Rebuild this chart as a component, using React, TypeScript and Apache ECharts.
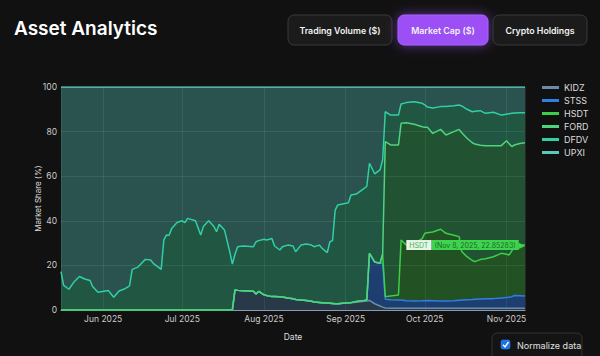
import { useEffect, useRef } from 'react';
import * as echarts from 'echarts';

const dates = [
  '2025-05-16','2025-05-17','2025-05-19','2025-05-21','2025-05-23','2025-05-25','2025-05-27','2025-05-28','2025-05-30',
  '2025-06-03','2025-06-04','2025-06-05','2025-06-07','2025-06-09','2025-06-11','2025-06-12','2025-06-14','2025-06-17',
  '2025-06-19','2025-06-20','2025-06-23','2025-06-24','2025-06-25','2025-06-26','2025-06-27','2025-06-29',
  '2025-07-01','2025-07-02','2025-07-03','2025-07-06','2025-07-08','2025-07-09','2025-07-11','2025-07-13','2025-07-14',
  '2025-07-15','2025-07-17','2025-07-19','2025-07-20','2025-07-21','2025-07-22','2025-07-24','2025-07-28','2025-07-29',
  '2025-07-30','2025-08-01','2025-08-02','2025-08-04','2025-08-05','2025-08-07','2025-08-08','2025-08-10','2025-08-12',
  '2025-08-13','2025-08-15','2025-08-17','2025-08-19','2025-08-20','2025-08-22','2025-08-23','2025-08-25','2025-08-26',
  '2025-08-27','2025-08-28','2025-08-29','2025-09-02','2025-09-03','2025-09-05','2025-09-08','2025-09-09','2025-09-10',
  '2025-09-12','2025-09-14','2025-09-15','2025-09-16','2025-09-18','2025-09-21','2025-09-22','2025-09-24','2025-09-27',
  '2025-09-30','2025-10-01','2025-10-02','2025-10-04','2025-10-07','2025-10-09','2025-10-12','2025-10-14','2025-10-15',
  '2025-10-17','2025-10-19','2025-10-20','2025-10-22','2025-10-24','2025-10-27','2025-10-30','2025-11-01','2025-11-02',
  '2025-11-03','2025-11-04','2025-11-06','2025-11-08',
];

const KIDZ = [
  0,0,0,0,0,0,0,0,0, 0,0,0,0,0,0,0,0,0, 0,0,0,0,0,0,0,0, 0,0,0,0,0,0,0,0,0, 0,0,0,0,9,8.8,8.6,8.4,7.2,
  8.3,6.8,6.5,6.0,6.0,5.9,5.8,5.4,5.0, 4.7,4.5,4.3,3.9,3.6,3.4,3.3,3.1,3.0, 2.9,2.8,2.8,3.2,3.3,3.5,3.9,4.0,4.3,
  2.8,1.8,1.3,0.9,0.8,0.8,0.8,0.8,0.8, 0.8,0.8,0.8,0.8,0.8,0.8,0.8,0.8,0.8, 0.8,0.8,0.8,0.8,0.8,0.8,0.8,0.8,0.8,
  0.8,0.8,0.8,0.8,
];
const STSS = [
  0,0,0,0,0,0,0,0,0, 0,0,0,0,0,0,0,0,0, 0,0,0,0,0,0,0,0, 0,0,0,0,0,0,0,0,0, 0,0,0,0,0,0,0,0,0,
  0,0,0,0,0,0,0,0,0, 0,0,0,0,0,0,0,0,0, 0,0,0,0,0,0.3,0.4,0.5,21.1,
  18.7,19.2,19.9,3.9,3.8,3.7,3.7,3.4,3.2, 3.3,3.4,3.5,3.4,3.2,3.2,3.4,3.6,3.7, 3.8,3.9,4.0,4.1,4.2,4.3,4.6,4.8,4.9,
  5.2,5.7,5.6,5.5,
];
const HSDT = [
  0,0,0,0,0,0,0,0,0, 0,0,0,0,0,0,0,0,0, 0,0,0,0,0,0,0,0, 0,0,0,0,0,0,0,0,0, 0,0,0,0,0,0,0,0,0,
  0,0,0,0,0,0,0,0,0, 0,0,0,0,0,0,0,0,0, 0,0,0,0,0,0,0,0,0,
  0,0,3.8,1.2,1.7,2.2,26.9,24.9,25.9, 27.9,30.2,30.3,30.8,32.2,30.4,29.3,28.5,21.7, 19.3,17.5,16.9,17.7,18.0,18.8,20.0,19.4,19.0,
  20.5,21.9,22.6,22.85,
];
const FORD = [
  0,0,0,0,0,0,0,0,0, 0,0,0,0,0,0,0,0,0, 0,0,0,0,0,0,0,0, 0,0,0,0,0,0,0,0,0, 0,0,0,0,0,0,0,0,0,
  0,0,0,0,0,0,0,0,0, 0,0,0,0,0,0,0,0,0, 0,0,0,0,0,0,0,0,0,
  0,0,0,69.5,67.7,67.3,52.3,54.9,53.4, 50.2,47.6,47.3,44.2,44.8,44.1,46.5,48.1,53.3, 53.1,52.8,52.7,51.3,50.7,49.8,48.3,50.9,49.8,
  46.8,45.6,45.7,45.9,
];
const DFDV = [
  17.2,11.0,9.3,12.7,15.0,13.9,13.2,10.5,8.0, 8.7,7.2,5.7,8.5,9.4,10.8,18.2,19.1,22.7, 22.4,20.9,18.2,31.4,33.6,33.5,36.6,39.2,
  40.0,39.2,41.1,40.0,33.6,37.4,40.0,37.4,35.1, 38.4,35.9,26.2,20.6,16.0,19.6,20.1,20.0,23.4,
  22.8,24.9,24.9,26.1,22.7,21.0,22.6,23.7,23.7, 21.4,24.6,25.3,25.2,24.8,25.7,24.4,22.6,27.6,
  28.2,42.0,44.3,44.9,48.3,48.2,50.2,51.0,40.4,
  39.5,41.8,42.3,13.4,13.4,13.4,8.7,9.0,10.1, 10.5,10.0,9.1,11.4,10.2,12.8,11.6,10.9,12.0, 13.0,13.9,14.7,15.5,14.5,15.0,13.7,11.9,13.5,
  14.9,14.3,13.8,13.5,
];
const UPXI = [
  82.8,89.0,90.7,87.3,85.0,86.1,86.8,89.5,92.0, 91.3,92.8,94.3,91.5,90.6,89.2,81.8,80.9,77.3, 77.6,79.1,81.8,68.6,66.4,66.5,63.4,60.8,
  60.0,60.8,58.9,60.0,66.4,62.6,60.0,62.6,64.9, 61.6,64.1,73.8,79.4,75.0,71.6,71.3,71.6,69.4,
  68.9,68.3,68.6,67.9,71.3,73.1,71.6,70.9,71.3, 73.9,70.9,70.4,70.9,71.6,70.9,72.3,74.3,69.4,
  68.9,55.2,52.9,51.9,48.4,48.0,45.5,44.5,34.2,
  39.0,37.2,32.7,11.1,12.6,12.6,7.6,7.0,6.6, 7.3,8.0,9.0,9.4,8.8,8.7,8.4,8.1,8.5, 10.0,11.1,10.9,10.6,11.8,11.3,12.6,12.2,12.0,
  11.8,11.7,11.5,11.5,
];

const seriesNames = ['KIDZ', 'STSS', 'HSDT', 'FORD', 'DFDV', 'UPXI'];
const monthNames = ['Jan','Feb','Mar','Apr','May','Jun','Jul','Aug','Sep','Oct','Nov','Dec'];
const buttonLabels = ['Trading Volume ($)', 'Market Cap ($)', 'Crypto Holdings'];
const hoverSeries = 'HSDT';
const hoverDate = 'Nov 8, 2025';
const hoverValue = '22.85283';

const lineColors = ['#6a8bab', '#2f7fe6', '#3ccf4a', '#4fd47e', '#30d0a2', '#5cc8bd'];
const fillColors = [
  'rgba(74,118,156,0.4)',
  'rgba(47,120,235,0.44)',
  'rgba(60,180,66,0.4)',
  'rgba(57,180,100,0.4)',
  'rgba(54,189,140,0.4)',
  'rgba(88,194,186,0.37)',
];

const FONT = 'Inter, "Noto Sans", sans-serif';

export default function App() {
  const ref = useRef<HTMLDivElement>(null);
  useEffect(() => {
    const chart = echarts.init(ref.current!, null, { renderer: 'svg' });
    const raw = [KIDZ, STSS, HSDT, FORD, DFDV, UPXI];
    const totals = dates.map((_, i) => raw.reduce((s, a) => s + a[i], 0));
    const norm = raw.map((arr) => arr.map((v, i) => (v * 100) / totals[i]));

    const series = seriesNames.map((name, k) => {
      const isHover = name === hoverSeries;
      const data: any[] = dates.map((d, i) => [d, norm[k][i]]);
      if (isHover) {
        const last = data.length - 1;
        data[last] = {
          value: data[last],
          symbol: 'circle',
          symbolSize: 0.1,
          label: {
            show: true,
            position: 'left',
            distance: 0,
            formatter: `{a|${name}}{b|(${hoverDate}, ${hoverValue})}{c|▶}`,
            rich: {
              a: { color: '#35b843', backgroundColor: '#eaf4ea', padding: [2, 3, 1, 3], fontSize: 7, fontFamily: FONT, lineHeight: 12 },
              b: { color: '#1c6a25', backgroundColor: '#3fd44f', padding: [2, 3, 1, 3], fontSize: 7, fontFamily: FONT, lineHeight: 12 },
              c: { color: '#3fd44f', fontSize: 8, fontFamily: 'DejaVu Sans', lineHeight: 12 },
            },
          },
        };
      }
      return {
        name,
        type: 'line',
        stack: 'total',
        data,
        showSymbol: isHover,
        showAllSymbol: isHover,
        symbol: isHover ? 'circle' : 'none',
        symbolSize: 0,
        lineStyle: { width: 1.5, color: lineColors[k] },
        itemStyle: { color: lineColors[k] },
        areaStyle: { color: fillColors[k], opacity: 1 },
        emphasis: { disabled: true },
        silent: true,
      };
    });

    const btns = [
      { x: 288, w: 104, fill: '#1b1b1b', stroke: '#3a3a3a', shadow: 0 },
      { x: 398, w: 90, fill: '#9c4ff5', stroke: '#a865ff', shadow: 12 },
      { x: 493, w: 94, fill: '#1b1b1b', stroke: '#3a3a3a', shadow: 0 },
    ];
    const graphic: any[] = [
      {
        type: 'text', x: 14, y: 28,
        style: { text: 'Asset Analytics', fill: '#ffffff', fontSize: 19, fontWeight: 600, fontFamily: FONT, align: 'left', verticalAlign: 'middle', textAlign: 'left', textVerticalAlign: 'middle' },
      },
    ];
    btns.forEach((b, i) => {
      graphic.push({
        type: 'rect',
        shape: { x: b.x, y: 15, width: b.w, height: 30, r: 6 },
        style: { fill: b.fill, stroke: b.stroke, lineWidth: 1, shadowBlur: b.shadow, shadowColor: 'rgba(156,79,245,0.55)' },
      });
      graphic.push({
        type: 'text', x: b.x + b.w / 2, y: 30,
        style: { text: buttonLabels[i], fill: '#f2f2f2', fontSize: 8.8, fontWeight: 600, fontFamily: FONT, align: 'center', verticalAlign: 'middle', textAlign: 'center', textVerticalAlign: 'middle' },
      });
    });
    graphic.push(
      { type: 'rect', shape: { x: 492, y: 333, width: 90, height: 30, r: 5 }, style: { fill: '#141414', stroke: '#333333', lineWidth: 1 } },
      { type: 'rect', shape: { x: 501, y: 340, width: 9, height: 9, r: 2 }, style: { fill: '#1a73e8', stroke: '#3b8cff', lineWidth: 0.5 } },
      { type: 'polyline', shape: { points: [[503, 344.8], [505, 347], [508.5, 342]] }, style: { stroke: '#ffffff', lineWidth: 1.4, fill: 'none' } },
      {
        type: 'text', x: 517, y: 345,
        style: { text: 'Normalize data', fill: '#e0e0e0', fontSize: 9, fontFamily: FONT, align: 'left', verticalAlign: 'middle', textAlign: 'left', textVerticalAlign: 'middle' },
      },
    );

    chart.setOption({
      animation: false,
      backgroundColor: '#111111',
      textStyle: { fontFamily: FONT },
      grid: { left: 61, right: 75, top: 87, bottom: 46 },
      legend: {
        orient: 'vertical',
        left: 537,
        top: 78,
        itemWidth: 17,
        itemHeight: 3,
        itemGap: 4,
        icon: 'rect',
        data: seriesNames,
        textStyle: { color: '#dddddd', fontSize: 9, fontFamily: FONT },
        selectedMode: false,
      },
      xAxis: {
        type: 'time',
        min: dates[0],
        max: dates[dates.length - 1],
        splitNumber: 6,
        name: 'Date',
        nameLocation: 'middle',
        nameGap: 22,
        nameTextStyle: { color: '#dddddd', fontSize: 8.5 },
        axisLine: { show: true, lineStyle: { color: '#8a9cb2', width: 1.2 } },
        axisTick: { show: false },
        axisLabel: {
          color: '#cccccc',
          fontSize: 8.5,
          margin: 4,
          hideOverlap: false,
          formatter: (v: number) => {
            const d = new Date(v);
            return d.getDate() === 1 ? `${monthNames[d.getMonth()]} ${d.getFullYear()}` : '';
          },
        },
        splitLine: { show: true, lineStyle: { color: 'rgba(255,255,255,0.09)' } },
      },
      yAxis: {
        type: 'value',
        min: 0,
        max: 100,
        interval: 20,
        name: 'Market Share (%)',
        nameLocation: 'middle',
        nameGap: 19,
        nameMoveOverlap: false,
        nameTextStyle: { color: '#dddddd', fontSize: 8 },
        axisLine: { show: false },
        axisTick: { show: false },
        axisLabel: { color: '#cccccc', fontSize: 8.5, margin: 4 },
        splitLine: { show: true, lineStyle: { color: 'rgba(255,255,255,0.1)' } },
      },
      series,
      graphic,
    });
    return () => chart.dispose();
  }, []);
  return (
    <div style={{ position: 'fixed', left: 0, top: 0, width: 600, height: 356, background: '#111111' }}>
      <div ref={ref} style={{ width: 600, height: 356 }} />
    </div>
  );
}
